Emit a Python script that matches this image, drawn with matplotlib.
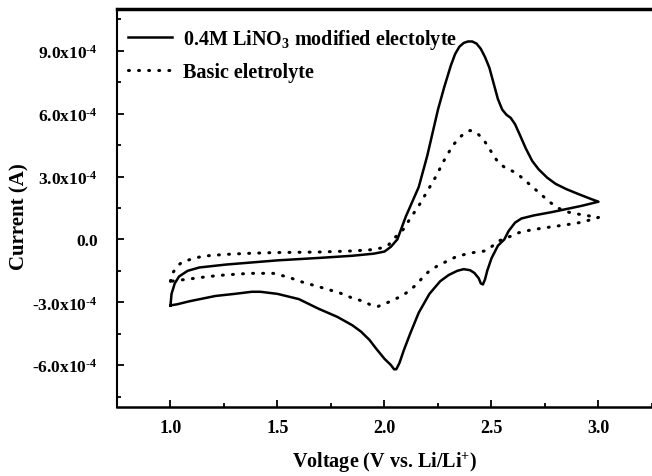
import numpy as np
import matplotlib
matplotlib.use("Agg")
import matplotlib.pyplot as plt
from matplotlib.ticker import FixedLocator, MultipleLocator

plt.rcParams['font.family'] = 'Liberation Serif'
plt.rcParams['font.weight'] = 'bold'
plt.rcParams['mathtext.fontset'] = 'custom'
plt.rcParams['mathtext.rm'] = 'Liberation Serif:bold'
plt.rcParams['mathtext.bf'] = 'Liberation Serif:bold'
plt.rcParams['mathtext.it'] = 'Liberation Serif:bold:italic'

# CV loops, current in units of 1e-4 A
v_lino3 = [1.00, 1.005, 1.02, 1.04, 1.08, 1.135, 1.26, 1.5, 1.70, 1.85, 1.95, 2.00, 2.03, 2.06,
           2.10, 2.16, 2.20, 2.25, 2.28, 2.31, 2.33, 2.35, 2.37, 2.39, 2.41, 2.43, 2.45, 2.47,
           2.49, 2.51, 2.53, 2.55, 2.57, 2.59, 2.61, 2.63, 2.66, 2.69, 2.72, 2.76, 2.80, 2.85,
           2.91, 2.96, 3.00,
           2.92, 2.85, 2.78, 2.70, 2.64, 2.61, 2.58, 2.56, 2.53, 2.50, 2.48, 2.47, 2.46, 2.45,
           2.44, 2.42, 2.40, 2.37, 2.34, 2.30, 2.26, 2.21, 2.16, 2.12, 2.09, 2.07, 2.055, 2.045,
           2.03, 2.00, 1.96, 1.93, 1.89, 1.85, 1.78, 1.69, 1.60, 1.50, 1.42, 1.38, 1.30, 1.21,
           1.09, 1.03, 1.00]
i_lino3 = [-3.15, -2.6, -2.1, -1.77, -1.5, -1.34, -1.2, -1.0, -0.88, -0.78, -0.68, -0.58, -0.35, 0.0,
           1.1, 2.5, 4.0, 6.2, 7.3, 8.3, 8.85, 9.2, 9.38, 9.45, 9.45, 9.35, 9.1, 8.7,
           8.2, 7.45, 6.7, 6.2, 5.95, 5.8, 5.5, 5.05, 4.35, 3.75, 3.35, 2.95, 2.65, 2.4,
           2.15, 1.95, 1.8,
           1.6, 1.45, 1.3, 1.15, 1.0, 0.8, 0.4, 0.0, -0.3, -0.9, -1.5, -1.9, -2.15, -2.1,
           -1.85, -1.6, -1.47, -1.42, -1.5, -1.7, -2.0, -2.6, -3.5, -4.5, -5.3, -5.9, -6.2, -6.2,
           -6.0, -5.7, -5.2, -4.8, -4.4, -4.1, -3.7, -3.3, -2.85, -2.6, -2.5, -2.5, -2.6, -2.7,
           -2.95, -3.1, -3.15]

v_basic = [1.00, 1.005, 1.02, 1.04, 1.06, 1.15, 1.25, 1.35, 1.48, 1.70, 1.85, 1.93, 1.98, 2.02,
           2.05, 2.09, 2.12, 2.16, 2.20, 2.24, 2.28, 2.32, 2.36, 2.40, 2.43, 2.46, 2.48, 2.51,
           2.53, 2.56, 2.60, 2.63, 2.67, 2.72, 2.77, 2.81, 2.86, 2.91, 3.00,
           2.95, 2.91, 2.85, 2.78, 2.70, 2.66, 2.62, 2.59, 2.56, 2.53, 2.50, 2.47, 2.42, 2.38,
           2.33, 2.29, 2.25, 2.21, 2.18, 2.15, 2.11, 2.08, 2.03, 1.97, 1.93, 1.90, 1.85, 1.79,
           1.74, 1.69, 1.62, 1.55, 1.48, 1.37, 1.25, 1.17, 1.08, 1.00]
i_basic = [-2.0, -1.7, -1.45, -1.2, -1.05, -0.8, -0.72, -0.67, -0.63, -0.6, -0.55, -0.5, -0.42, -0.25,
           0.1, 0.5, 1.0, 1.6, 2.3, 3.0, 3.8, 4.5, 4.95, 5.2, 5.1, 4.8, 4.5, 4.0,
           3.7, 3.45, 3.25, 3.05, 2.7, 2.25, 1.8, 1.5, 1.3, 1.2, 1.05,
           0.9, 0.8, 0.7, 0.6, 0.48, 0.4, 0.3, 0.15, 0.05, -0.1, -0.35, -0.55, -0.62, -0.7,
           -0.85, -1.05, -1.25, -1.5, -1.8, -2.15, -2.5, -2.7, -2.95, -3.2, -3.1, -2.95, -2.8, -2.55,
           -2.4, -2.25, -2.05, -1.8, -1.62, -1.62, -1.7, -1.78, -1.9, -2.0]

y_ticks = [-6.0, -3.0, 0.0, 3.0, 6.0, 9.0]
y_minor = [-7.5, -4.5, -1.5, 1.5, 4.5, 7.5, 10.5]
y_tick_labels = [r'-6.0x10$^{\text{-4}}$', r'-3.0x10$^{\text{-4}}$', '0.0',
                 r'3.0x10$^{\text{-4}}$', r'6.0x10$^{\text{-4}}$', r'9.0x10$^{\text{-4}}$']
x_ticks = [1.0, 1.5, 2.0, 2.5, 3.0]
x_tick_labels = ['1.0', '1.5', '2.0', '2.5', '3.0']

fig = plt.figure(figsize=(6.52, 4.77), dpi=100)
ax = fig.add_axes([0.1794, 0.1447, 0.8206, 0.8343])

scale = 1e-4
ax.plot(v_lino3, np.array(i_lino3) * scale, color='black', lw=1.8,
        solid_joinstyle='round', label=r'0.4M LiNO$_3$ modified electolyte')
ax.plot(v_basic, np.array(i_basic) * scale, color='black', lw=2.2,
        linestyle=(0, (0.3, 3.0)), dash_capstyle='round',
        label='Basic eletrolyte')

ax.set_xlim(0.75, 3.25)
ax.set_ylim(-8e-4, 11e-4)
ax.xaxis.set_major_locator(FixedLocator(x_ticks))
ax.xaxis.set_minor_locator(MultipleLocator(0.25))
ax.set_xticklabels(x_tick_labels)
ax.yaxis.set_major_locator(FixedLocator([t * scale for t in y_ticks]))
ax.yaxis.set_minor_locator(FixedLocator([t * scale for t in y_minor]))
ax.set_yticklabels(y_tick_labels)

ax.tick_params(axis='both', which='major', direction='in', length=5, width=1.3)
ax.tick_params(axis='x', which='major', pad=9, labelsize=13)
ax.tick_params(axis='y', which='major', pad=14, labelsize=12.5)
ax.tick_params(axis='both', which='minor', direction='in', length=3, width=1.3)
ax.tick_params(top=False, right=False, which='both')

ax.spines['right'].set_visible(False)
ax.spines['top'].set_linewidth(2.5)
ax.spines['left'].set_linewidth(1.5)
ax.spines['bottom'].set_linewidth(1.8)

ax.set_xlabel(r'Voltage (V vs. Li/Li$^{+}$)', fontsize=14.5, fontweight='bold')
ax.xaxis.set_label_coords(0.5, -0.108)
ax.set_ylabel('Current (A)', fontsize=15, fontweight='bold')
ax.yaxis.set_label_coords(-0.163, 0.48)

ax.legend(loc='upper left', frameon=False, fontsize=14.5, handlelength=2.2,
          handletextpad=0.55, labelspacing=0.55, borderaxespad=0.0,
          bbox_to_anchor=(0.005, 0.975))

fig.savefig('out.png', dpi=100)
